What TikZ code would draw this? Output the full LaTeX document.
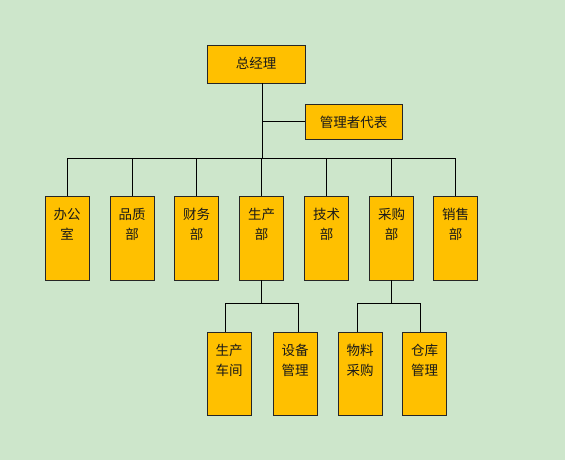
\documentclass[tikz,border=0pt]{standalone}
\usepackage{fontspec}
\newfontfamily\cjk{Noto Sans CJK SC}
\definecolor{bg}{HTML}{CDE6CB}
\definecolor{boxfill}{HTML}{FFC000}
\begin{document}
\begin{tikzpicture}[x=1pt,y=-1pt,
  box/.style={draw=black!85,fill=boxfill,line width=0.9pt,inner sep=0pt,minimum width=44pt,minimum height=84pt},
  sbox/.style={box,minimum height=83pt},
  txt/.style={font=\cjk\fontsize{13.5}{20}\selectfont,align=center,text=black!90,anchor=north,inner sep=0pt},
  ctxt/.style={font=\cjk\fontsize{13.5}{20}\selectfont,text=black!90,inner sep=0pt},
  conn/.style={draw=black,line width=0.9pt}]
\fill[bg] (0,0) rectangle (565,460);
\useasboundingbox (0,0) rectangle (565,460);
% top
\node[box,minimum width=98pt,minimum height=38pt] (gm) at (256,64) {};
\node[ctxt] (gmt) at (256,63) {总经理};
\node[box,minimum width=97pt,minimum height=35pt] (rep) at (353.5,121.5) {};
\node[ctxt] (rept) at (353.5,122) {管理者代表};
\coordinate (trunk) at (262,158);
\coordinate (repj) at (262,121.5);
% departments
\foreach \n/\x/\t in {d1/67/办公\\室, d2/132/品质\\部, d3/196.5/财务\\部, d4/261.5/生产\\部, d5/326.5/技术\\部, d6/391.5/采购\\部, d7/455.5/销售\\部}{
  \node[box] (\n) at (\x,238) {};
  \node[txt] (\n t) at (\x,208) {\t};
}
% sub units
\foreach \n/\x/\t in {s1/229/生产\\车间, s2/295/设备\\管理, s3/360/物料\\采购, s4/424.5/仓库\\管理}{
  \node[sbox] (\n) at (\x,373.5) {};
  \node[txt] (\n t) at (\x,344) {\t};
}
\coordinate (bus1) at (261.5,303);
\coordinate (bus2) at (391.5,303);
% connectors
\draw[conn] (gm.south -| trunk) -- (trunk);
\draw[conn] (repj) -- (rep.west);
\draw[conn] (d1.north |- trunk) -- (d7.north |- trunk);
\foreach \n in {d1,d2,d3,d4,d5,d6,d7}{
  \draw[conn] (\n.north |- trunk) -- (\n.north);
}
\draw[conn] (d4.south) -- (bus1);
\draw[conn] (d6.south) -- (bus2);
\draw[conn] ([xshift=-4pt]s1.north |- bus1) -- ([xshift=3pt]s2.north |- bus1);
\draw[conn] ([xshift=-3pt]s3.north |- bus2) -- ([xshift=-4pt]s4.north |- bus2);
\draw[conn] ([xshift=-4pt]s1.north |- bus1) -- ([xshift=-4pt]s1.north);
\draw[conn] ([xshift=3pt]s2.north |- bus1) -- ([xshift=3pt]s2.north);
\draw[conn] ([xshift=-3pt]s3.north |- bus2) -- ([xshift=-3pt]s3.north);
\draw[conn] ([xshift=-4pt]s4.north |- bus2) -- ([xshift=-4pt]s4.north);
\end{tikzpicture}
\end{document}
